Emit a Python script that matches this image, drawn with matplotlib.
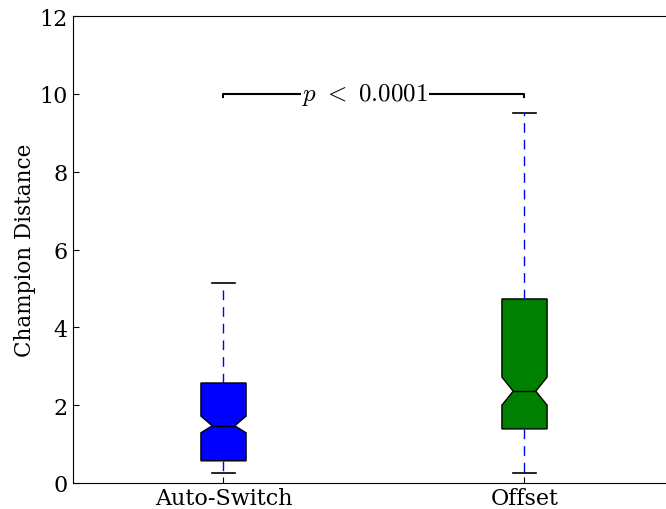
import matplotlib
matplotlib.use('Agg')
import matplotlib.pyplot as plt

# values
names = ['Auto-Switch', 'Offset']
colors = ['blue', 'green']
whislo = [0.25, 0.26]
q1 = [0.57, 1.39]
med = [1.47, 2.36]
q3 = [2.57, 4.73]
whishi = [5.14, 9.51]
cilo = [1.29, 2.00]
cihi = [1.72, 2.72]
p_text = r'$p\ <\ 0.0001$'
bracket_y = 10.0

plt.rcParams['font.family'] = 'DejaVu Serif'
plt.rcParams['mathtext.fontset'] = 'cm'

fig = plt.figure(figsize=(6.66, 5.10), dpi=100)
# the reference is cropped on the right, so the axes runs past the figure edge
ax = fig.add_axes([73 / 666, 26 / 510, 602 / 666, 467 / 510])

stats = []
for i in range(len(names)):
    stats.append(dict(label=names[i], whislo=whislo[i], q1=q1[i], med=med[i],
                      q3=q3[i], whishi=whishi[i], cilo=cilo[i], cihi=cihi[i],
                      fliers=[]))

bp = ax.bxp(stats, positions=[1, 2], widths=0.15, shownotches=True,
            patch_artist=True, showfliers=False,
            boxprops=dict(edgecolor='black', linewidth=1.0),
            whiskerprops=dict(color='blue', linestyle=(0, (7, 5)), linewidth=1.0),
            capprops=dict(color='black', linewidth=1.2),
            medianprops=dict(color='black', linewidth=1.0))
for patch, c in zip(bp['boxes'], colors):
    patch.set_facecolor(c)

# significance bracket
ax.plot([1, 1, 2, 2], [bracket_y - 0.08, bracket_y, bracket_y, bracket_y - 0.08],
        color='black', linewidth=1.5)
ax.text(1.47, bracket_y, p_text, ha='center', va='center', fontsize=18,
        bbox=dict(facecolor='white', edgecolor='none', pad=0.5))

ax.set_xlim(0.5, 2.5)
ax.set_ylim(0, 12)
ax.set_yticks(range(0, 13, 2))
ax.set_xticks([1, 2])
ax.set_xticklabels(names)
ax.spines['right'].set_visible(False)
ax.tick_params(direction='in', length=4, labelsize=16, top=False, right=False)
ax.tick_params(axis='x', pad=3)
ax.tick_params(axis='y', pad=4)
ax.set_ylabel('Champion Distance', fontsize=15.5, labelpad=2)

fig.savefig('out.png', dpi=100)
